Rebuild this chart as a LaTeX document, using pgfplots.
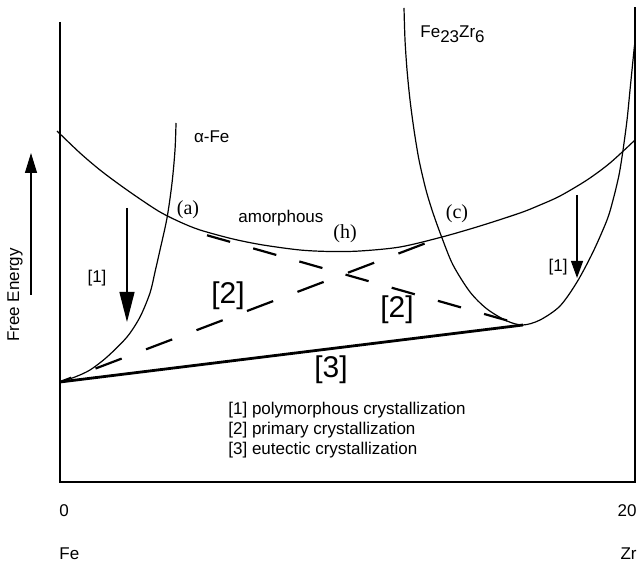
\documentclass[border=0pt]{standalone}
\usepackage{pgfplots}
\pgfplotsset{compat=1.18}
\usepackage{fontspec}
\setmainfont{Liberation Sans}
\newfontfamily\seriffont{Liberation Serif}
\usetikzlibrary{arrows.meta}

% Schematic free-energy curves of the Fe-Zr system (x = at.% Zr, y = arb. units)
\pgfplotstableread{
x       y
-0.104  87.75
0.696   82.25
1.391   78.0
2.087   74.25
2.783   70.75
3.478   67.5
4.174   65.0
4.870   63.0
6.017   60.75
7.061   59.25
8.348   58.0
9.391   57.625
10.435  57.75
11.826  58.75
13.287  61.25
14.609  64.0
16.000  67.25
16.696  69.25
17.391  71.5
18.330  75.5
19.130  79.75
20.000  85.5
}\amorphous

\pgfplotstableread{
x       y
0.000   25.0
0.522   26.25
1.043   28.0
1.635   31.25
2.330   36.25
2.783   41.25
3.130   47.25
3.304   52.5
3.478   58.0
3.722   66.0
3.896   74.75
4.000   83.0
4.035   89.75
}\alphaFe

\pgfplotstableread{
x       y
11.965  118.5
12.000  110.5
12.070  103.0
12.174  95.5
12.313  88.0
12.487  80.5
12.730  73.0
12.974  67.25
13.287  61.0
13.670  54.25
14.261  47.5
14.852  43.25
15.548  40.25
16.104  39.25
16.696  40.5
17.391  44.0
17.983  50.0
18.539  57.5
19.026  65.5
19.235  70.5
19.443  76.75
19.583  83.0
19.722  90.5
19.826  98.0
19.930  105.5
19.983  109.25
}\FeZr

\begin{document}
\begin{tikzpicture}[font=\fontsize{8.5pt}{10pt}\selectfont]
\begin{axis}[
  scale only axis, width=321pt, height=281pt,
  xmin=-2.087, xmax=20.243, ymin=-20, ymax=120.5,
  hide axis, clip=false,
]
% page extent
\coordinate (pageSW) at (axis cs:-2.087,-20);
\coordinate (pageNE) at (axis cs:20.243,120.5);

% frame: left, bottom and right sides
\draw[line width=0.6pt] (axis cs:0,115) -- (axis cs:0,0) -- (axis cs:20,0) -- (axis cs:20,118.75);

% phase curves
\addplot[black, line width=0.6pt, smooth, tension=0.5] table[x=x, y=y] {\amorphous};
\addplot[black, line width=0.6pt, smooth, tension=0.5] table[x=x, y=y] {\alphaFe};
\addplot[black, line width=0.6pt, smooth, tension=0.5] table[x=x, y=y] {\FeZr};

% common tangents
\addplot[black, line width=1.4pt] coordinates {(0,25) (16.104,39.25)};
\addplot[black, line width=1.1pt, dash pattern=on 14pt off 13pt, dash phase=8pt] coordinates {(0,25) (13.287,61.25)};
\addplot[black, line width=1.1pt, dash pattern=on 12pt off 12pt] coordinates {(5.113,61.68) (16.104,39.25)};

% polymorphous transformation arrows
\draw[line width=0.6pt, -{Triangle[length=15pt, width=7.5pt]}] (axis cs:2.330,68.5) -- (axis cs:2.330,40);
\draw[line width=0.6pt, -{Triangle[length=8.5pt, width=6pt]}] (axis cs:17.983,71.75) -- (axis cs:17.983,51);

% free energy axis arrow and label
\draw[line width=0.6pt, -{Triangle[length=10pt, width=6pt]}] (axis cs:-1.009,46.75) -- (axis cs:-1.009,82.25);
\node[rotate=90, inner sep=0pt] at (axis cs:-1.565,46.75) {Free Energy};

% curve labels
\node[anchor=west] at (axis cs:4.417,86.25) {α-Fe};
\node[anchor=base west, inner sep=0pt] at (axis cs:12.522,111) {Fe\raisebox{-0.5ex}{23}Zr\raisebox{-0.5ex}{6}};
\node[anchor=base west, inner sep=0pt] at (axis cs:6.191,64.75) {amorphous};
\node[font=\seriffont] at (axis cs:4.452,68) {(a)};
\node[font=\seriffont] at (axis cs:9.913,62) {(h)};
\node[font=\seriffont] at (axis cs:13.809,67) {(c)};

% reaction labels
\node at (axis cs:1.287,51) {[1]};
\node at (axis cs:17.322,53.75) {[1]};
\node[font=\fontsize{15pt}{18pt}\selectfont] at (axis cs:5.843,46.5) {[2]};
\node[font=\fontsize{15pt}{18pt}\selectfont] at (axis cs:11.722,43) {[2]};
\node[font=\fontsize{15pt}{18pt}\selectfont] at (axis cs:9.426,28) {[3]};

% key
\node[anchor=west, inner sep=0pt] at (axis cs:5.843,18) {[1] polymorphous crystallization};
\node[anchor=west, inner sep=0pt] at (axis cs:5.843,13) {[2] primary crystallization};
\node[anchor=west, inner sep=0pt] at (axis cs:5.843,8) {[3] eutectic crystallization};

% composition axis ends
\node[anchor=west, inner sep=0pt] at (axis cs:-0.035,-7.25) {0};
\node[anchor=east, inner sep=0pt] at (axis cs:20.07,-7.25) {20};
\node[anchor=west, inner sep=0pt] at (axis cs:-0.035,-18) {Fe};
\node[anchor=east, inner sep=0pt] at (axis cs:20.07,-18) {Zr};
\end{axis}
\pgfresetboundingbox
\path (pageSW) rectangle (pageNE);
\end{tikzpicture}
\end{document}
